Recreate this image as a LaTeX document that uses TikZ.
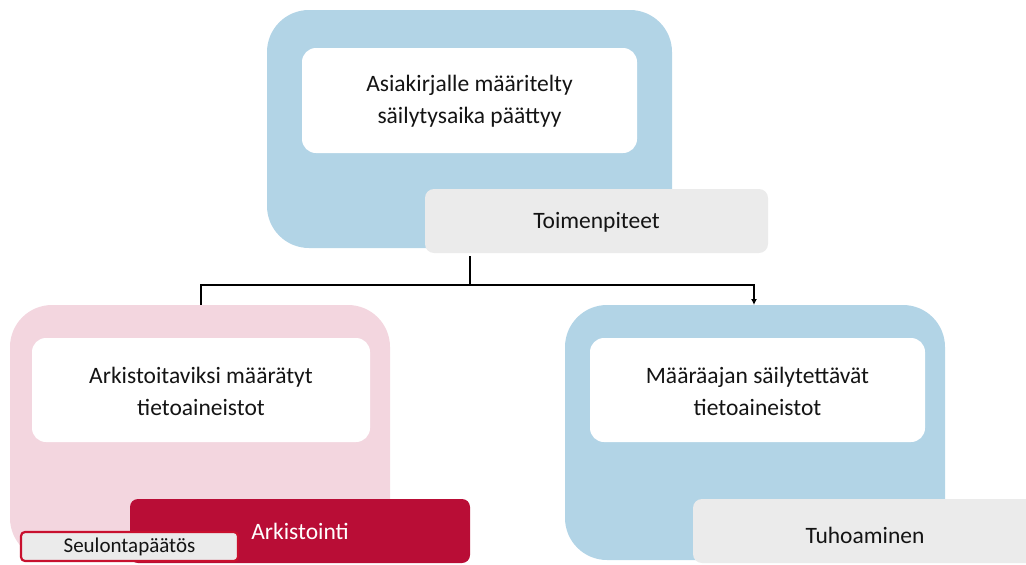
\documentclass[tikz,border=0pt]{standalone}
\usepackage{fontspec}
\usetikzlibrary{arrows.meta}
\setmainfont{Carlito}
\definecolor{lblue}{HTML}{B2D4E6}
\definecolor{lpink}{HTML}{F3D6DF}
\definecolor{lgrey}{HTML}{EBEBEB}
\definecolor{dred}{HTML}{B90D36}
\definecolor{bred}{HTML}{C8102E}
\begin{document}
\begin{tikzpicture}[x=1pt,y=-1pt,
  outer/.style={rounded corners=42pt},
  inner/.style={fill=white,rounded corners=14pt},
  tag/.style={fill=lgrey,rounded corners=9pt},
  lbl/.style={font=\fontsize{23.5}{32}\selectfont,align=center,text=black!92},
  conn/.style={line width=1.6pt,black}]
\useasboundingbox (0,0) rectangle (1026,565);
% top
\fill[lblue,outer] (267,10) rectangle (672,248);
\fill[inner] (302,48) rectangle (637,153);
\node[lbl] (top) at (469.5,101) {Asiakirjalle määritelty\\säilytysaika päättyy};
\fill[tag] (425,189) rectangle (768,253);
\node[lbl] (toim) at (596.5,222) {Toimenpiteet};
% left
\fill[lpink,outer] (10,305) rectangle (390,560);
\fill[inner] (32,338) rectangle (370,442);
\node[lbl] (ark) at (201,391) {Arkistoitaviksi määrätyt\\tietoaineistot};
\fill[dred,rounded corners=8pt] (130,499) rectangle (470,563);
\node[lbl,text=white] (arki) at (300,531) {Arkistointi};
\draw[fill=lgrey,draw=bred,line width=2.2pt,rounded corners=4pt] (21,532) rectangle (238,561);
\node[lbl,font=\fontsize{21}{24}\selectfont] (seul) at (129.5,546.5) {Seulontapäätös};
% right
\fill[lblue,outer] (565,305) rectangle (945,560);
\fill[inner] (590,338) rectangle (925,442);
\node[lbl] (maar) at (757.5,391) {Määräajan säilytettävät\\tietoaineistot};
\fill[tag] (693,499) rectangle (1040,563);
\node[lbl] (tuho) at (865,535) {Tuhoaminen};
% connectors
\coordinate (a) at (470,256);
\coordinate (b) at (470,285);
\coordinate (l) at (201,305);
\coordinate (r) at (754,305);
\draw[conn] (a) -- (b);
\draw[conn] (b) -| (l);
\draw[conn,-{Latex[length=6pt,width=6pt]}] (b) -| (r);
\end{tikzpicture}
\end{document}
